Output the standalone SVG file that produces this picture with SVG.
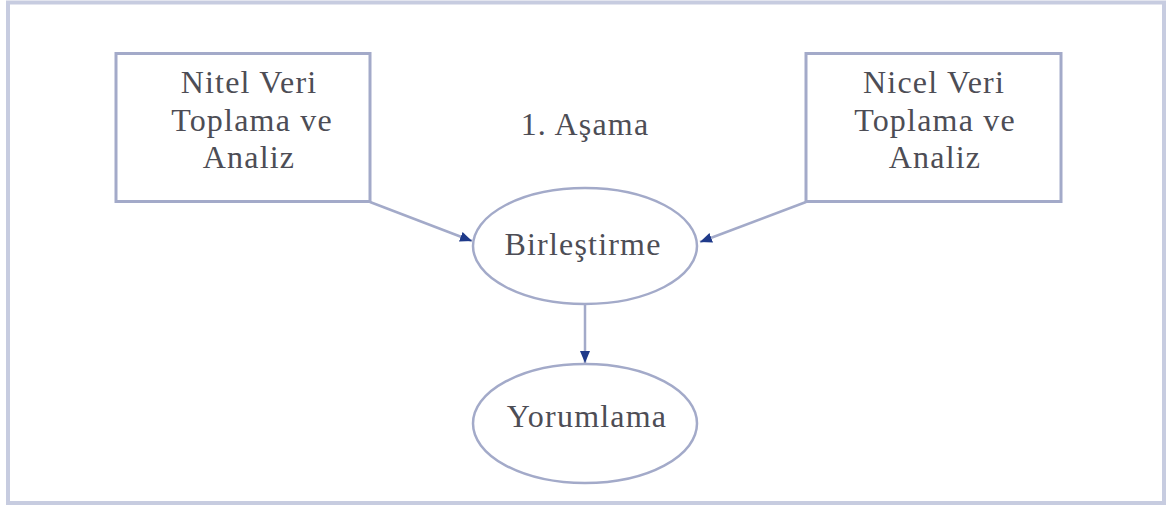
<svg xmlns="http://www.w3.org/2000/svg" width="1166" height="506" viewBox="0 0 1166 506">
<style>
  .box { fill: #ffffff; stroke: #a3aac9; stroke-width: 3; }
  .ell { fill: #ffffff; stroke: #a3aac9; stroke-width: 2.5; }
  .lbl { font-family: "Liberation Serif", "Times New Roman", serif; font-size: 32px; fill: #4d4d55; text-anchor: middle; letter-spacing: 1.2px; }
  .conn { stroke: #a3aac9; stroke-width: 2.5; fill: none; }
</style>
<defs>
  <marker id="arr" markerUnits="userSpaceOnUse" markerWidth="14" markerHeight="12" refX="12" refY="5" orient="auto">
    <path d="M0,0 L12,5 L0,10 Z" fill="#1f3a8a"/>
  </marker>
</defs>
<rect x="8" y="2.5" width="1156" height="500.5" fill="#ffffff" stroke="#c7cce0" stroke-width="4"/>
<g id="connectors">
  <line class="conn" x1="370" y1="202" x2="472" y2="241" marker-end="url(#arr)"/>
  <line class="conn" x1="806" y1="202" x2="700" y2="242" marker-end="url(#arr)"/>
  <line class="conn" x1="585" y1="304" x2="585" y2="363" marker-end="url(#arr)"/>
</g>
<g id="nitel">
  <rect class="box" x="116" y="53.5" width="254" height="148"/>
  <text class="lbl" x="249" y="93">Nitel Veri</text>
  <text class="lbl" x="252" y="131">Toplama ve</text>
  <text class="lbl" x="249" y="168">Analiz</text>
</g>
<g id="nicel">
  <rect class="box" x="806" y="53.5" width="255" height="148"/>
  <text class="lbl" x="934" y="93">Nicel Veri</text>
  <text class="lbl" x="935" y="131">Toplama ve</text>
  <text class="lbl" x="935" y="168">Analiz</text>
</g>
<g id="asama">
  <text class="lbl" x="585" y="135">1. Aşama</text>
</g>
<g id="birlestirme">
  <ellipse class="ell" cx="585" cy="246" rx="112" ry="58"/>
  <text class="lbl" x="583" y="255">Birleştirme</text>
</g>
<g id="yorumlama">
  <ellipse class="ell" cx="585" cy="423.5" rx="112" ry="59.5"/>
  <text class="lbl" x="587" y="427">Yorumlama</text>
</g>
</svg>
